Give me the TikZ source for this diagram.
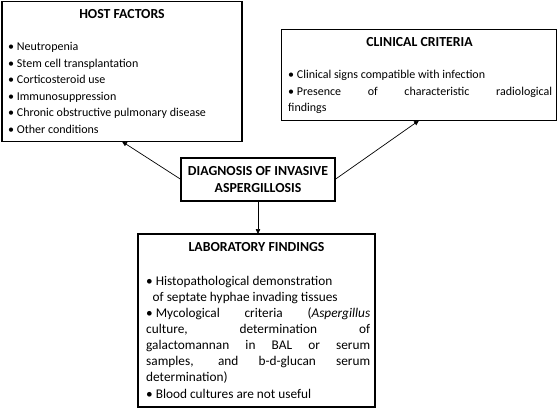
\documentclass[tikz,border=0pt]{standalone}
\usepackage{fontspec}
\setmainfont{Carlito}
\usetikzlibrary{arrows.meta}
\begin{document}
\begin{tikzpicture}[x=1pt,y=-1pt,
  box/.style={draw, line width=1.8pt, inner sep=0pt, outer sep=0pt},
  txt/.style={anchor=base west, inner sep=0pt, font=\fontsize{12}{14}\selectfont},
  labtxt/.style={anchor=base west, inner sep=0pt, font=\fontsize{13.3}{16}\selectfont},
  ttl/.style={anchor=base, inner sep=0pt, font=\fontsize{13.8}{16}\selectfont\bfseries},
  arr/.style={-{Triangle[length=5pt,width=4.5pt]}, line width=0.7pt}]
\useasboundingbox (0,0) rectangle (560,409);
% boxes
\node[box, minimum width=240, minimum height=140] (host) at (122,71.5) {};
\node[box, minimum width=275, minimum height=91] (clin) at (419,75) {};
\node[box, minimum width=154, minimum height=43] (diag) at (258,179.5) {};
\node[box, minimum width=237, minimum height=173] (lab) at (256.5,320.5) {};
% host text
\node[ttl] (hostt) at (122,19) {HOST FACTORS};
\node[txt] (h1) at (8,51) {• Neutropenia};
\node[txt] (h2) at (8,67.5) {• Stem cell transplantation};
\node[txt] (h3) at (8,84) {• Corticosteroid use};
\node[txt] (h4) at (8,100.5) {• Immunosuppression};
\node[txt] (h5) at (8,117) {• Chronic obstructive pulmonary disease};
\node[txt] (h6) at (8,133.5) {• Other conditions};
% clinical text
\node[ttl] (clint) at (419.5,47) {CLINICAL CRITERIA};
\node[txt] (c1) at (288,79) {• Clinical signs compatible with infection};
\node[txt] (c2) at (288,95.5) {\makebox[264pt][s]{\mbox{• }Presence of characteristic radiological}};
\node[txt] (c3) at (288,112) {findings};
% diagnosis text
\node[ttl] (d1) at (258,176) {DIAGNOSIS OF INVASIVE};
\node[ttl] (d2) at (258,192.5) {ASPERGILLOSIS};
% lab text
\node[ttl] (labt) at (256.5,251.5) {LABORATORY FINDINGS};
\node[labtxt] (l1) at (146,285) {• Histopathological demonstration};
\node[labtxt] (l2) at (152.5,301.2) {of septate hyphae invading tissues};
\node[labtxt] (l3) at (146,317.3) {\makebox[224pt][s]{\mbox{• }Mycological criteria (\textit{Aspergillus}}};
\node[labtxt] (l4) at (146,333.5) {\makebox[224pt][s]{culture, determination of}};
\node[labtxt] (l5) at (146,349.6) {\makebox[224pt][s]{galactomannan in BAL or serum}};
\node[labtxt] (l6) at (146,365.8) {\makebox[224pt][s]{samples, and b-d-glucan serum}};
\node[labtxt] (l7) at (146,381.9) {determination)};
\node[labtxt] (l8) at (146,398) {• Blood cultures are not useful};
% connectors
\draw[arr] (diag.west) -- (host.south);
\draw[arr] (diag.east) -- (clin.south);
\draw[arr] (diag.south) -- (diag.south |- lab.north);
\end{tikzpicture}
\end{document}
